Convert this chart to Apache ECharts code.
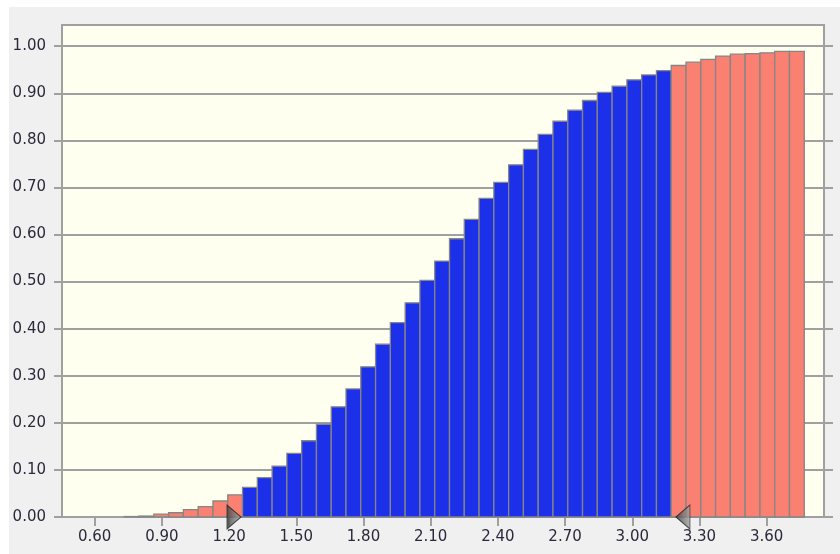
<!DOCTYPE html>
<html>
<head>
<meta charset="utf-8">
<script src="https://cdn.jsdelivr.net/npm/echarts@6/dist/echarts.min.js"></script>
<style>
  html, body { margin: 0; padding: 0; background: #ffffff; }
  #chart { width: 840px; height: 554px; }
</style>
</head>
<body>
<div id="chart"></div>
<script>
// bin centres (x) and cumulative share (y)
const binCenters = [
  0.765, 0.831, 0.897, 0.963, 1.029, 1.095, 1.161, 1.227, 1.293, 1.359,
  1.425, 1.491, 1.557, 1.623, 1.689, 1.755, 1.821, 1.887, 1.953, 2.019,
  2.085, 2.151, 2.217, 2.283, 2.349, 2.415, 2.481, 2.547, 2.613, 2.679,
  2.745, 2.811, 2.877, 2.943, 3.009, 3.075, 3.141, 3.207, 3.273, 3.339,
  3.405, 3.471, 3.537, 3.603, 3.669, 3.735
];
const cumValues = [
  0.001, 0.002, 0.006, 0.009, 0.0155, 0.022, 0.034, 0.047, 0.063, 0.0835,
  0.108, 0.135, 0.162, 0.197, 0.234, 0.272, 0.319, 0.367, 0.413, 0.455,
  0.5025, 0.5435, 0.591, 0.632, 0.6766, 0.7106, 0.748, 0.781, 0.8125, 0.8408,
  0.864, 0.8846, 0.9017, 0.915, 0.9285, 0.939, 0.948, 0.959, 0.966, 0.972,
  0.979, 0.983, 0.984, 0.986, 0.989, 0.989
];
const binWidth = 0.066;
// cut markers on the x axis
const cutLow = 1.253;
const cutHigh = 3.195;
const xTicks = [0.6, 0.9, 1.2, 1.5, 1.8, 2.1, 2.4, 2.7, 3.0, 3.3, 3.6];
const yTicks = [0, 0.1, 0.2, 0.3, 0.4, 0.5, 0.6, 0.7, 0.8, 0.9, 1.0];

const BLUE = '#1b30e8';
const SALMON = '#fa8072';
const LINE = '#a0a0a0';
const TEXT = { color: '#2a2a3a', fontFamily: 'DejaVu Sans', fontSize: 15 };

const chart = echarts.init(document.getElementById('chart'));

function renderBin(params, api) {
  const x = api.value(0);
  const y = api.value(1);
  const p0 = api.coord([x - binWidth / 2, y]);
  const p1 = api.coord([x + binWidth / 2, 0]);
  const inside = x > cutLow && x < cutHigh;
  return {
    type: 'rect',
    shape: { x: p0[0], y: p0[1], width: p1[0] - p0[0], height: p1[1] - p0[1] },
    style: { fill: inside ? BLUE : SALMON, stroke: '#858585', lineWidth: 1.3 }
  };
}

const triFill = new echarts.graphic.LinearGradient(0, 0, 1, 0, [
  { offset: 0, color: '#3c3c3c' },
  { offset: 1, color: '#a8a8a8' }
]);

chart.setOption({
  backgroundColor: '#ffffff',
  animation: false,
  graphic: [{
    type: 'rect', z: -10, silent: true,
    shape: { x: 9, y: 7, width: 831, height: 547 },
    style: { fill: '#f0f0f0' }
  }],
  grid: {
    left: 62, top: 25, right: 16, bottom: 37,
    show: true, backgroundColor: '#fffff0', borderColor: LINE, borderWidth: 2
  },
  xAxis: {
    type: 'value', min: 0.454, max: 3.856,
    axisLine: { show: true, lineStyle: { color: LINE, width: 2 } },
    axisTick: { show: true, length: 9, customValues: xTicks, lineStyle: { color: LINE, width: 2 } },
    axisLabel: { ...TEXT, margin: 13, customValues: xTicks, formatter: (v) => v.toFixed(2) },
    splitLine: { show: false }
  },
  yAxis: [{
    type: 'value', min: 0, max: 1.045, interval: 0.1,
    axisLine: { show: true, lineStyle: { color: LINE, width: 2 } },
    axisTick: { show: true, length: 8, customValues: yTicks, lineStyle: { color: LINE, width: 2 } },
    axisLabel: { ...TEXT, margin: 16, customValues: yTicks, formatter: (v) => v.toFixed(2) },
    splitLine: { show: true, lineStyle: { color: LINE, width: 2 } }
  }, {
    type: 'value', min: 0, max: 1.045, interval: 0.1, position: 'right',
    axisLine: { show: true, lineStyle: { color: LINE, width: 2 } },
    axisTick: { show: true, length: 9, customValues: yTicks, lineStyle: { color: LINE, width: 2 } },
    axisLabel: { show: false },
    splitLine: { show: false }
  }],
  series: [{
    type: 'custom',
    renderItem: renderBin,
    encode: { x: 0, y: 1 },
    data: binCenters.map((x, i) => [x, cumValues[i]]),
    z: 2
  }, {
    type: 'scatter',
    clip: false,
    z: 5,
    symbol: 'path://M0,0 L14,12 L0,24 Z',
    symbolSize: [14, 24],
    symbolOffset: [-7, 0],
    itemStyle: { color: triFill, borderColor: '#1e1e1e', borderWidth: 1 },
    data: [[cutLow, 0]]
  }, {
    type: 'scatter',
    clip: false,
    z: 5,
    symbol: 'path://M14,0 L0,12 L14,24 Z',
    symbolSize: [14, 24],
    symbolOffset: [7, 0],
    itemStyle: { color: triFill, borderColor: '#1e1e1e', borderWidth: 1 },
    data: [[cutHigh, 0]]
  }]
});
</script>
</body>
</html>
